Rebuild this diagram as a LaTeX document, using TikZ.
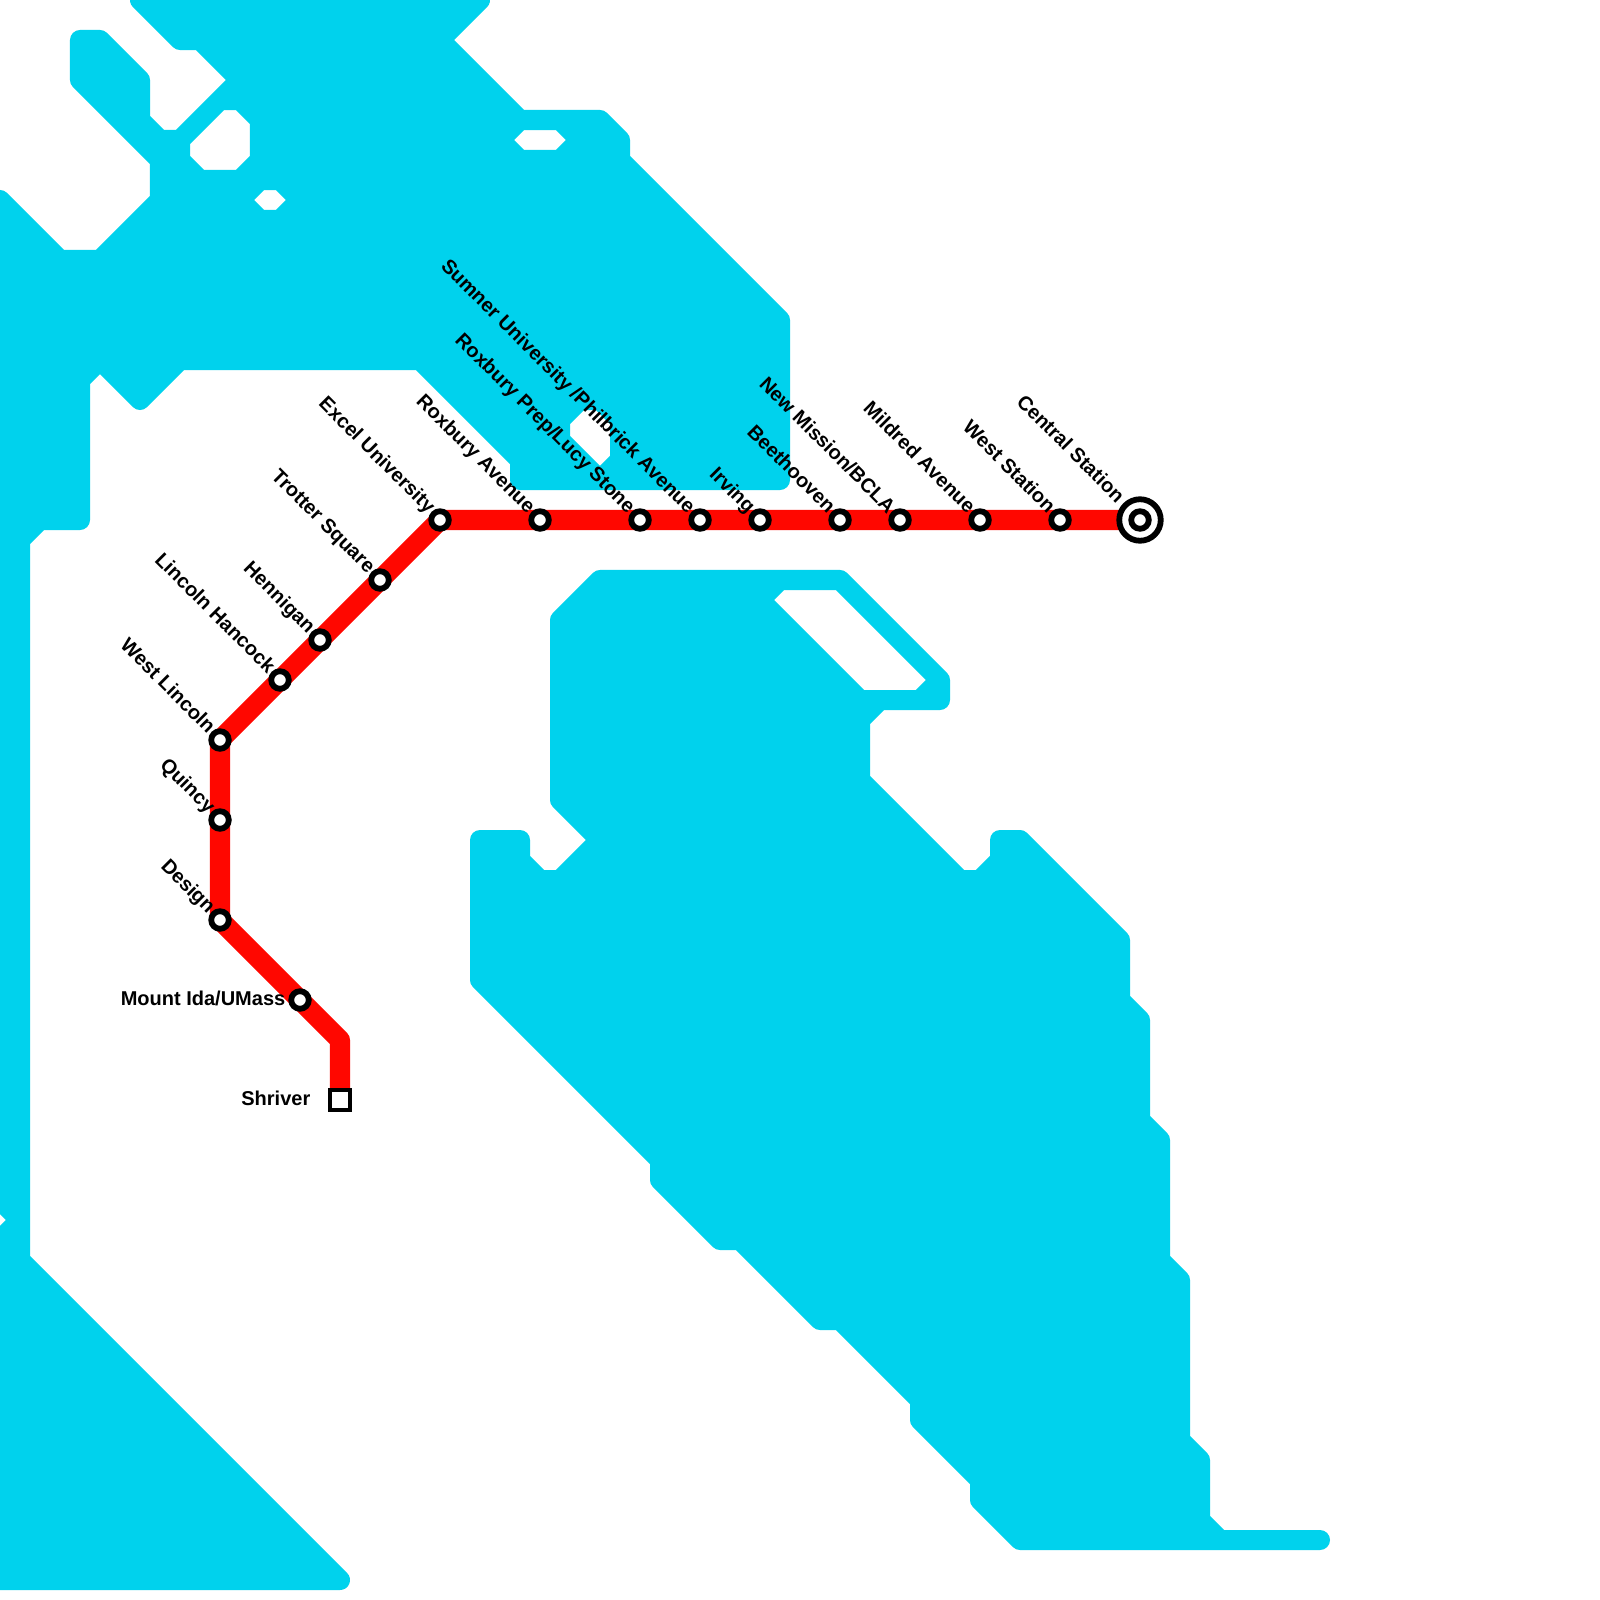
\documentclass[tikz,border=0pt]{standalone}
\usepackage{fontspec}
\setmainfont{Liberation Sans}
\usetikzlibrary{backgrounds}
\definecolor{baywater}{HTML}{00D2ED}
\definecolor{routered}{HTML}{FF0700}
\tikzset{
    water/.style={fill=baywater, draw=baywater, line width=5.69pt, line join=round, even odd rule},
    route/.style={draw=routered, line width=5.69pt, line join=round},
    stopring/.style={circle, draw=black, fill=white, line width=1.65pt, minimum size=5pt, inner sep=0pt},
    terminusring/.style={circle, draw=black, fill=white, line width=1.65pt, minimum size=11.8pt, inner sep=0pt},
    stopbox/.style={rectangle, draw=black, fill=white, line width=1.1pt, minimum size=5.75pt, inner sep=0pt},
    slantlabel/.style={anchor=base east, rotate=-45, inner sep=0pt, font=\fontsize{5.69}{7}\selectfont\bfseries},
    flatlabel/.style={anchor=base east, inner sep=0pt, font=\fontsize{5.69}{7}\selectfont\bfseries}
}
\begin{document}
\begin{tikzpicture}[x=0.01cm, y=-0.01cm]
    \useasboundingbox (0,0) rectangle (1600,1600);

    % -----------------------------------------------------------------
    % STATIONS
    % -----------------------------------------------------------------
    \node[terminusring] (central) at (1140,520) {};
    \foreach \stopname/\x/\y in {central2/1140/520, west/1060/520, mildred/980/520, newmission/900/520, beethoven/840/520,
        irving/760/520, sumner/700/520, roxprep/640/520, roxbury/540/520, excel/440/520, trotter/380/580,
        hennigan/320/640, hancock/280/680, westlincoln/220/740, quincy/220/820, design/220/920, mountida/300/1000} {
        \node[stopring] (\stopname) at (\x,\y) {};
    }
    \node[stopbox] (shriver) at (340,1100) {};
    \coordinate (bend) at (340,1040);

    % -----------------------------------------------------------------
    % LABELS
    % -----------------------------------------------------------------
    \foreach \stopname/\txt in {west/West Station, mildred/Mildred Avenue, newmission/New Mission\slash BCLA,
        beethoven/Beethooven, irving/Irving, sumner/{Sumner University /Philbrick Avenue}, roxprep/Roxbury Prep\slash Lucy Stone,
        roxbury/Roxbury Avenue, excel/Excel University, trotter/Trotter Square, hennigan/Hennigan, hancock/Lincoln Hancock,
        westlincoln/West Lincoln, quincy/Quincy, design/Design} {
        \node[slantlabel] (lbl\stopname) at ([shift={(-3.5pt,1.5pt)}]\stopname.center) {\txt};
    }
    \node[slantlabel] (lblcentral) at ([shift={(-6.6pt,4.5pt)}]central.center) {Central Station};
    \node[flatlabel] (lblmountida) at (286,1005) {Mount Ida/UMass};
    \node[flatlabel] (lblshriver) at (311,1105) {Shriver};

    % -----------------------------------------------------------------
    % WATER AND ROUTE
    % -----------------------------------------------------------------
    \begin{scope}[on background layer]
        \fill[white] (0,0) rectangle (1600,1600);
        % north bay, west shore and south-west corner
        \path[water] (0,200) -- (60,260) -- (100,260) -- (160,200) -- (160,160) -- (80,80) -- (80,40) -- (100,40)
            -- (140,80) -- (140,120) -- (160,140) -- (180,140) -- (240,80) -- (200,40) -- (180,40) -- (140,0)
            -- (480,0) -- (440,40) -- (520,120) -- (600,120) -- (620,140) -- (620,160) -- (780,320) -- (780,480)
            -- (520,480) -- (520,460) -- (420,360) -- (180,360) -- (140,400) -- (100,360) -- (80,380) -- (80,520)
            -- (40,520) -- (20,540) -- (20,1260) -- (340,1580) -- (-40,1580) -- (-40,200) -- cycle
            (220,100) -- (240,100) -- (260,120) -- (260,160) -- (240,180) -- (200,180) -- (180,160) -- (180,140) -- cycle
            (260,180) -- (280,180) -- (300,200) -- (280,220) -- (260,220) -- (240,200) -- cycle
            (520,120) -- (560,120) -- (580,140) -- (560,160) -- (520,160) -- (500,140) -- cycle
            (580,400) -- (600,400) -- (620,420) -- (620,460) -- (600,480) -- (560,440) -- (560,420) -- cycle
            (20,1220) -- (-20,1260) -- (-20,1180) -- cycle;
        % south bay
        \path[water] (600,580) -- (840,580) -- (940,680) -- (940,700) -- (880,700) -- (860,720) -- (860,780) -- (960,880)
            -- (980,880) -- (1000,860) -- (1000,840) -- (1020,840) -- (1120,940) -- (1120,1000) -- (1140,1020)
            -- (1140,1120) -- (1160,1140) -- (1160,1260) -- (1180,1280) -- (1180,1440) -- (1200,1460) -- (1200,1520)
            -- (1220,1540) -- (1320,1540) -- (1020,1540) -- (980,1500) -- (980,1480) -- (920,1420) -- (920,1400)
            -- (840,1320) -- (820,1320) -- (740,1240) -- (720,1240) -- (660,1180) -- (660,1160) -- (480,980)
            -- (480,840) -- (520,840) -- (520,860) -- (540,880) -- (560,880) -- (600,840) -- (560,800) -- (560,620) -- cycle
            (780,580) -- (840,580) -- (940,680) -- (920,700) -- (860,700) -- (760,600) -- cycle;
        % the line
        \draw[route] (central.center) -- (west.center) -- (mildred.center) -- (newmission.center) -- (beethoven.center)
            -- (irving.center) -- (sumner.center) -- (roxprep.center) -- (roxbury.center) -- (excel.center)
            -- (trotter.center) -- (hennigan.center) -- (hancock.center) -- (westlincoln.center) -- (quincy.center)
            -- (design.center) -- (mountida.center) -- (bend) -- (shriver.center);
    \end{scope}
\end{tikzpicture}
\end{document}
